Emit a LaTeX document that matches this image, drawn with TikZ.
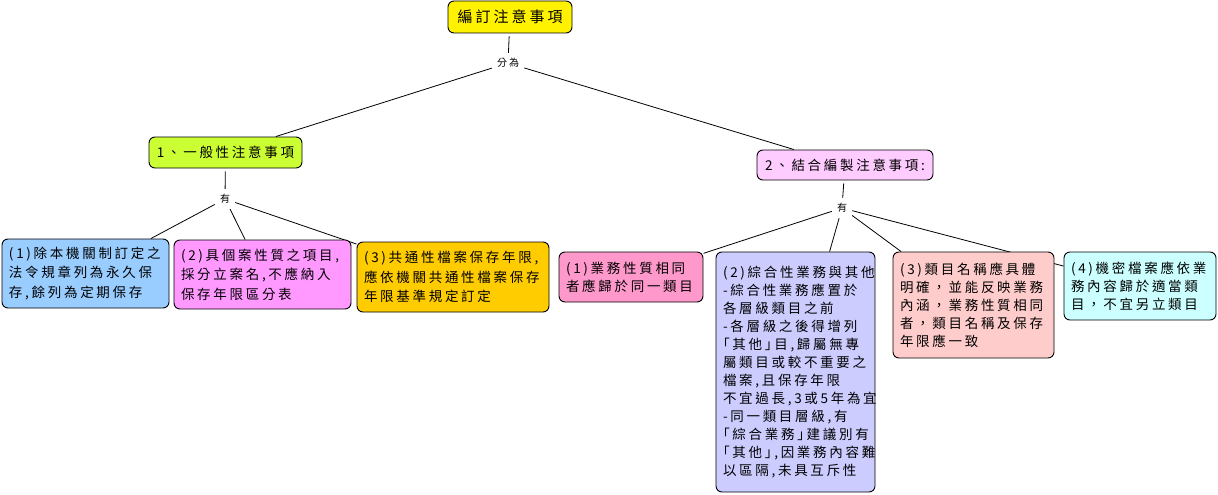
\documentclass[tikz,border=0pt]{standalone}
\usepackage{fontspec}
\usepackage{tikz}
\usetikzlibrary{backgrounds}
\newfontfamily\cjk[LetterSpace=20]{Noto Sans CJK TC}
\exhyphenpenalty=10000
\hyphenpenalty=10000

\begin{document}
\begin{tikzpicture}[x=1pt, y=-1pt,
    box/.style={draw=black, line width=0.9pt, rounded corners=6pt, inner sep=0pt, font=\cjk\fontsize{13.5}{16}\selectfont},
    leaf/.style={box, align=left, inner xsep=7pt, font=\cjk\fontsize{13.5}{#1}\selectfont},
    leaf/.default=18,
    tag/.style={font=\cjk\fontsize{10}{12}\selectfont, inner xsep=5pt, inner ysep=4pt, minimum height=20pt},
    link/.style={line width=0.8pt}]

        \useasboundingbox (0,0) rectangle (1218,495);

        % top
        \node [box, fill=yellow, minimum width=124pt, minimum height=32pt, font=\cjk\fontsize{15}{16}\selectfont] (root) at (510,17) {編訂注意事項};
        \node [tag] (fenwei) at (508,63) {分為};

        % middle
        \node [box, fill={rgb,255:red,204;green,255;blue,51}, minimum width=153pt, minimum height=31pt] (gen) at (225.5,152.5) {1、一般性注意事項};
        \node [box, fill={rgb,255:red,255;green,204;blue,255}, minimum width=176pt, minimum height=30pt] (comb) at (845,165) {2、結合編製注意事項:};
        \node [tag] (you1) at (225,199) {有};
        \node [tag] (you2) at (842,208) {有};

        % leaves of 1
        \node [leaf=19.5, fill={rgb,255:red,153;green,204;blue,255}, text width=153pt, minimum height=69pt] (a1) at (85.5,273.5)
          {(1)除本機關制訂定之\\法令規章列為永久保\\存,餘列為定期保存};
        \node [leaf=19.5, fill={rgb,255:red,255;green,153;blue,255}, text width=163pt, minimum height=69pt] (a2) at (262.5,274.5)
          {(2)具個案性質之項目,\\採分立案名,不應納入\\保存年限區分表};
        \node [leaf=19.5, fill={rgb,255:red,255;green,204;blue,0}, text width=178pt, minimum height=70pt] (a3) at (453,277)
          {(3)共通性檔案保存年限,\\應依機關共通性檔案保存\\年限基準規定訂定};

        % leaves of 2
        \node [leaf, fill={rgb,255:red,255;green,153;blue,204}, text width=130pt, minimum height=50pt] (b1) at (631,277)
          {(1)業務性質相同\\者應歸於同一類目};
        \node [leaf, fill={rgb,255:red,204;green,204;blue,255}, text width=145pt, minimum height=240pt] (b2) at (795.5,372)
          {(2)綜合性業務與其他\\-綜合性業務應置於\\各層級類目之前\\-各層級之後得增列\\｢其他｣目,歸屬無專\\屬類目或較不重要之\\檔案,且保存年限\\不宜過長,3或5年為宜\\-同一類目層級,有\\｢綜合業務｣建議別有\\｢其他｣,因業務內容難\\以區隔,未具互斥性};
        \node [leaf, fill={rgb,255:red,255;green,204;blue,204}, text width=147pt, minimum height=106pt] (b3) at (973.5,305)
          {(3)類目名稱應具體\\明確，並能反映業務\\內涵，業務性質相同\\者，類目名稱及保存\\年限應一致};
        \node [leaf, fill={rgb,255:red,204;green,255;blue,255}, text width=138pt, minimum height=68pt] (b4) at (1140,286)
          {(4)機密檔案應依業\\務內容歸於適當類\\目，不宜另立類目};

        % connectors
        \begin{scope}[on background layer]
          \draw [link, shorten <=3pt] (root) -- (fenwei);
          \foreach \n in {gen,comb} {
            \draw [link] (fenwei) -- (\n);
          }
          \draw [link, shorten <=3pt] (gen) -- (you1);
          \foreach \n in {a1,a2,a3} {
            \draw [link] (you1) -- (\n);
          }
          \draw [link, shorten <=3pt] (comb) -- (you2);
          \foreach \n in {b1,b2,b3,b4} {
            \draw [link] (you2) -- (\n);
          }
        \end{scope}
\end{tikzpicture}
\end{document}
